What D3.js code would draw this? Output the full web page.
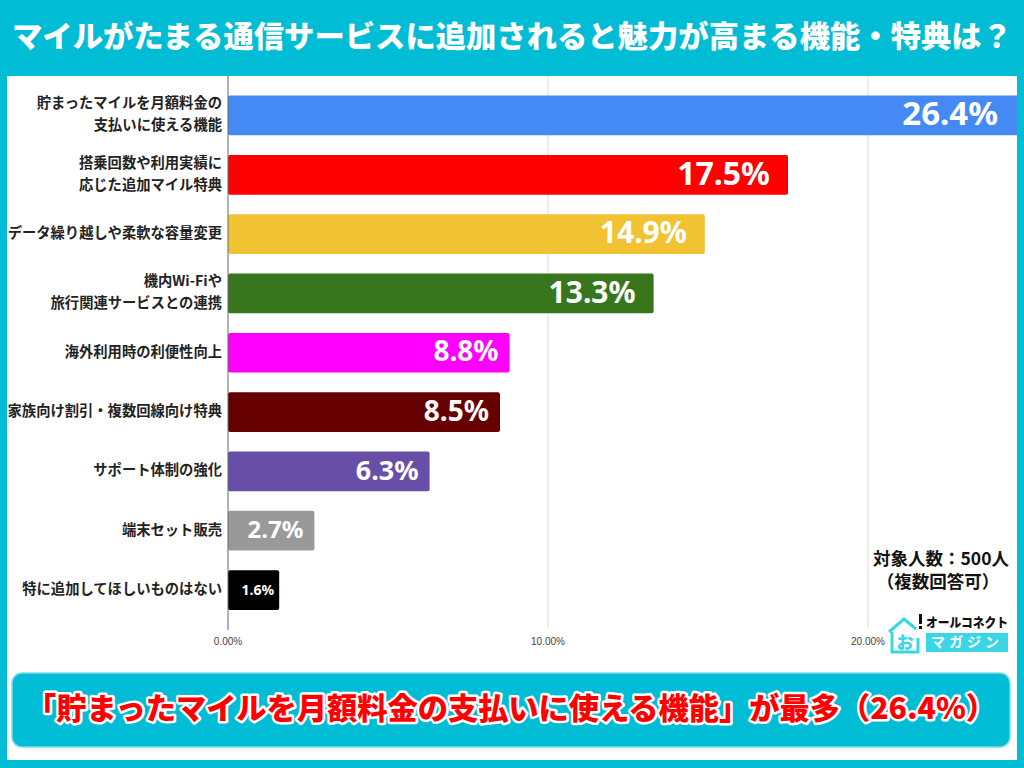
<!DOCTYPE html>
<html>
<head>
<meta charset="utf-8">
<script src="https://cdn.jsdelivr.net/npm/d3@7"></script>
<style>
  body { margin: 0; background: #fff; }
  svg { display: block; font-family: "Noto Sans CJK JP", "Noto Sans", sans-serif; }
</style>
</head>
<body>
<svg id="svg" width="1024" height="768"></svg>
<script>
const categories = [
  ["貯まったマイルを月額料金の", "支払いに使える機能"],
  ["搭乗回数や利用実績に", "応じた追加マイル特典"],
  ["データ繰り越しや柔軟な容量変更"],
  ["機内Wi-Fiや", "旅行関連サービスとの連携"],
  ["海外利用時の利便性向上"],
  ["家族向け割引・複数回線向け特典"],
  ["サポート体制の強化"],
  ["端末セット販売"],
  ["特に追加してほしいものはない"]
];
const values = [26.4, 17.5, 14.9, 13.3, 8.8, 8.5, 6.3, 2.7, 1.6];
const colors = ["#4589f5", "#ff0000", "#f1c232", "#38761d", "#ff00ff", "#660000", "#674ea7", "#999999", "#000000"];
const labelSizes = [33, 32, 30, 30, 28, 28, 27, 24, 14];
const ticks = [0, 10, 20];

const svg = d3.select("#svg");
const cyan = "#00bcd4";

// frame
svg.append("rect").attr("width", 1024).attr("height", 768).attr("fill", cyan);
svg.append("rect").attr("x", 7).attr("y", 76).attr("width", 1010).attr("height", 684).attr("fill", "#fff");

svg.append("text")
  .attr("x", 512).attr("y", 39)
  .attr("text-anchor", "middle").attr("dominant-baseline", "middle")
  .attr("fill", "#fff").style("font-size", "30px").style("font-weight", 900)
  .attr("textLength", 1000).attr("lengthAdjust", "spacingAndGlyphs")
  .text("マイルがたまる通信サービスに追加されると魅力が高まる機能・特典は？");

const x = d3.scaleLinear().domain([0, 10]).range([228, 548]);
const y = d3.scaleBand().domain(d3.range(values.length)).range([85.5, 620]).paddingInner(0.33).paddingOuter(0.17);

const clip = svg.append("clipPath").attr("id", "plot");
clip.append("rect").attr("x", 7).attr("y", 76).attr("width", 1010).attr("height", 684);

const g = svg.append("g").attr("clip-path", "url(#plot)");

// grid
g.selectAll("line.grid")
  .data(ticks.slice(1))
  .enter()
  .append("line")
  .attr("class", "grid")
  .attr("x1", (d) => x(d)).attr("x2", (d) => x(d))
  .attr("y1", 76).attr("y2", 628)
  .attr("stroke", "#dddddd").attr("stroke-width", 1);

// bars
g.selectAll("rect.bar")
  .data(values)
  .enter()
  .append("rect")
  .attr("class", "bar")
  .attr("x", x(0))
  .attr("y", (d, i) => y(i))
  .attr("width", (d) => x(d) - x(0))
  .attr("height", y.bandwidth())
  .attr("rx", 2)
  .attr("fill", (d, i) => colors[i]);

// value labels, right end clipped to panel
g.selectAll("text.val")
  .data(values)
  .enter()
  .append("text")
  .attr("class", "val")
  .attr("x", (d) => Math.min(x(d), 1016) - (d >= 10 ? 18 : d < 2 ? 5 : 11))
  .attr("y", (d, i) => y(i) + y.bandwidth() / 2 + 1)
  .attr("text-anchor", "end").attr("dominant-baseline", "middle")
  .attr("fill", "#fff")
  .style("font-family", "'Noto Sans', 'Open Sans', sans-serif")
  .style("font-weight", 700)
  .style("font-size", (d, i) => labelSizes[i] + "px")
  .text((d) => d.toFixed(1) + "%");

// axis
svg.append("line")
  .attr("x1", x(0)).attr("x2", x(0)).attr("y1", 76).attr("y2", 630)
  .attr("stroke", "#666").attr("stroke-width", 1);

svg.selectAll("text.tick")
  .data(ticks)
  .enter()
  .append("text")
  .attr("class", "tick")
  .attr("x", (d) => x(d)).attr("y", 642)
  .attr("text-anchor", "middle").attr("dominant-baseline", "middle")
  .attr("fill", "#444")
  .style("font-family", "'Liberation Sans', Arial, sans-serif")
  .style("font-size", "10px")
  .text((d) => d.toFixed(2) + "%");

// category labels
const cat = svg.selectAll("text.cat")
  .data(categories)
  .enter()
  .append("text")
  .attr("class", "cat")
  .attr("text-anchor", "end")
  .attr("fill", "#222")
  .style("font-size", "14.3px").style("font-weight", 700)
  .attr("transform", (d, i) => `translate(222,${y(i) + y.bandwidth() / 2})`);

cat.selectAll("tspan")
  .data((d) => d.map((t, k) => ({ t, k, n: d.length })))
  .enter()
  .append("tspan")
  .attr("x", 0)
  .attr("y", (d) => (d.k - (d.n - 1) / 2) * 22)
  .attr("dominant-baseline", "middle")
  .text((d) => d.t);

// note
svg.append("text")
  .attr("x", 941).attr("y", 560)
  .attr("text-anchor", "middle").attr("dominant-baseline", "middle")
  .attr("fill", "#111").style("font-size", "17.5px").style("font-weight", 700)
  .text("対象人数：500人");
svg.append("text")
  .attr("x", 938).attr("y", 583)
  .attr("text-anchor", "middle").attr("dominant-baseline", "middle")
  .attr("fill", "#111").style("font-size", "17.5px").style("font-weight", 700)
  .text("（複数回答可）");

// logo
const logo = svg.append("g").attr("transform", "translate(886,612)");
logo.append("path")
  .attr("d", "M3,20 L18,7 L30,17 M6,20 L6,40 L32,40 L32,26")
  .attr("fill", "none").attr("stroke", "#3ad6e6").attr("stroke-width", 3);
logo.append("text").attr("x", 19).attr("y", 37).attr("text-anchor", "middle")
  .attr("fill", "#3ad6e6").style("font-size", "17px").style("font-weight", 900).text("お");
logo.append("rect").attr("x", 33).attr("y", 2).attr("width", 3).attr("height", 10).attr("fill", "#111");
logo.append("rect").attr("x", 33).attr("y", 14).attr("width", 3).attr("height", 3).attr("fill", "#111");
logo.append("text").attr("x", 40).attr("y", 15)
  .attr("fill", "#111").style("font-size", "13px").style("font-weight", 900)
  .attr("textLength", 82).attr("lengthAdjust", "spacingAndGlyphs").text("オールコネクト");
logo.append("rect").attr("x", 40).attr("y", 21).attr("width", 82).attr("height", 19).attr("fill", "#3ad6e6");
logo.append("text").attr("x", 81).attr("y", 31).attr("text-anchor", "middle").attr("dominant-baseline", "middle")
  .attr("fill", "#fff").style("font-size", "14px").style("font-weight", 700)
  .style("letter-spacing", "4px").text("マガジン");

// bottom banner
svg.append("rect")
  .attr("x", 12).attr("y", 673).attr("width", 998).attr("height", 74)
  .attr("rx", 10).attr("fill", cyan).attr("stroke", "#7fdde9").attr("stroke-width", 1.5);

svg.append("text")
  .attr("x", 511).attr("y", 711)
  .attr("text-anchor", "middle").attr("dominant-baseline", "middle")
  .attr("fill", "#ff0000").attr("stroke", "#fff").attr("stroke-width", 5)
  .attr("stroke-linejoin", "round").attr("paint-order", "stroke")
  .style("font-size", "30px").style("font-weight", 900)
  .attr("textLength", 970).attr("lengthAdjust", "spacingAndGlyphs")
  .text("「貯まったマイルを月額料金の支払いに使える機能」が最多（26.4%）");
</script>
</body>
</html>
